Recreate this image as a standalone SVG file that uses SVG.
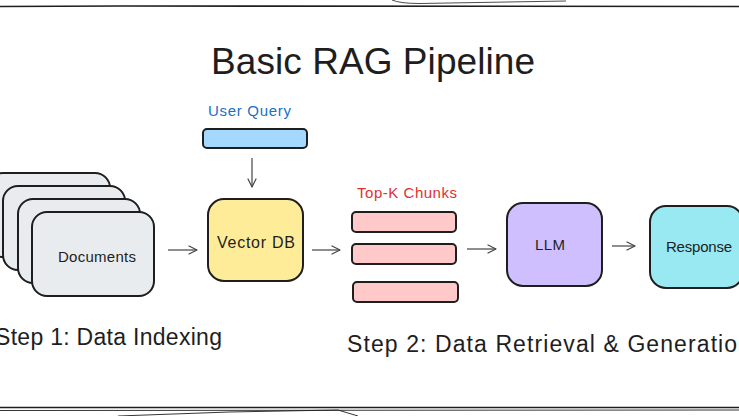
<svg xmlns="http://www.w3.org/2000/svg" width="739" height="416" viewBox="0 0 739 416">
<defs>
<marker id="ah" viewBox="0 0 10 10" refX="9" refY="5" markerWidth="10" markerHeight="10" markerUnits="userSpaceOnUse" orient="auto">
<path d="M1 1 L9 5 L1 9" fill="none" stroke="#444" stroke-width="1.2" stroke-linecap="round" stroke-linejoin="round"/>
</marker>
</defs>
<style>
.box{stroke:#1e1e1e;stroke-width:2}
.doc{fill:#e9ecef}
.t{font-family:"Liberation Sans",Arial,sans-serif;fill:#1e1e1e}
.lbl{font-size:15px;text-anchor:middle;dominant-baseline:central}
.edge{stroke:#444;stroke-width:1.2;fill:none;marker-end:url(#ah)}
.frame{stroke:#1e1e1e;fill:none}
</style>
<rect width="739" height="416" fill="#ffffff"/>
<g id="frame">
<path class="frame" d="M0 6.5 L120 6 L739 6.5" stroke-width="1.6"/>
<path class="frame" d="M392 0 Q400 3.5 420 3.5 L566 1" stroke-width="0.8" stroke="#777"/>
<path class="frame" d="M0 407.5 L739 407.5" stroke-width="1.6"/>
<path class="frame" d="M0 410.5 L739 410" stroke-width="0.9" stroke="#555"/>
<path class="frame" d="M118 416 Q230 411 338 410 L358 416" stroke-width="0.9" stroke="#555"/>
</g>
<g id="title">
<text class="t" x="211" y="74" font-size="37" textLength="324">Basic RAG Pipeline</text>
</g>
<g id="user-query">
<text class="t" x="208" y="116" font-size="15" fill="#1971c2" style="fill:#1971c2" textLength="83">User Query</text>
<rect class="box" x="203" y="129" width="104" height="19" rx="4" fill="#a5d8ff"/>
</g>
<g id="documents">
<rect class="box doc" x="-12" y="173" width="122" height="84" rx="15"/>
<rect class="box doc" x="3" y="186" width="122" height="84" rx="15"/>
<rect class="box doc" x="18" y="199" width="122" height="84" rx="15"/>
<rect class="box doc" x="32" y="212" width="122" height="84" rx="15"/>
<text class="t lbl" x="97" y="256" textLength="78">Documents</text>
</g>
<g id="vector-db">
<rect class="box" x="208" y="199" width="95" height="82" rx="16" fill="#ffec99"/>
<text class="t lbl" x="256" y="242" font-size="16" style="font-size:16px" textLength="78">Vector DB</text>
</g>
<g id="top-k-chunks">
<text class="t" x="357" y="198" font-size="15" style="fill:#e03131" textLength="100">Top-K Chunks</text>
<rect class="box" x="352" y="212" width="104" height="20" rx="4" fill="#ffc9c9"/>
<rect class="box" x="352" y="244" width="104" height="20" rx="4" fill="#ffc9c9"/>
<rect class="box" x="353" y="282" width="105" height="20" rx="4" fill="#ffc9c9"/>
</g>
<g id="llm">
<rect class="box" x="507" y="203" width="95" height="83" rx="16" fill="#d0bfff"/>
<text class="t lbl" x="550" y="244" textLength="30">LLM</text>
</g>
<g id="response">
<rect class="box" x="650" y="206" width="93" height="82" rx="16" fill="#99e9f2"/>
<text class="t lbl" x="699" y="246" textLength="66">Response</text>
</g>
<g id="connectors">
<path class="edge" d="M168 250 L197 250"/>
<path class="edge" d="M252 158 L252 187"/>
<path class="edge" d="M312 250 L340 250"/>
<path class="edge" d="M467 249 L496 249"/>
<path class="edge" d="M612 246 L635 246"/>
</g>
<g id="step-labels">
<text class="t" x="-5" y="345" font-size="23" textLength="227">Step 1: Data Indexing</text>
<text class="t" x="347" y="352" font-size="23" textLength="404">Step 2: Data Retrieval &amp; Generation</text>
</g>
</svg>
